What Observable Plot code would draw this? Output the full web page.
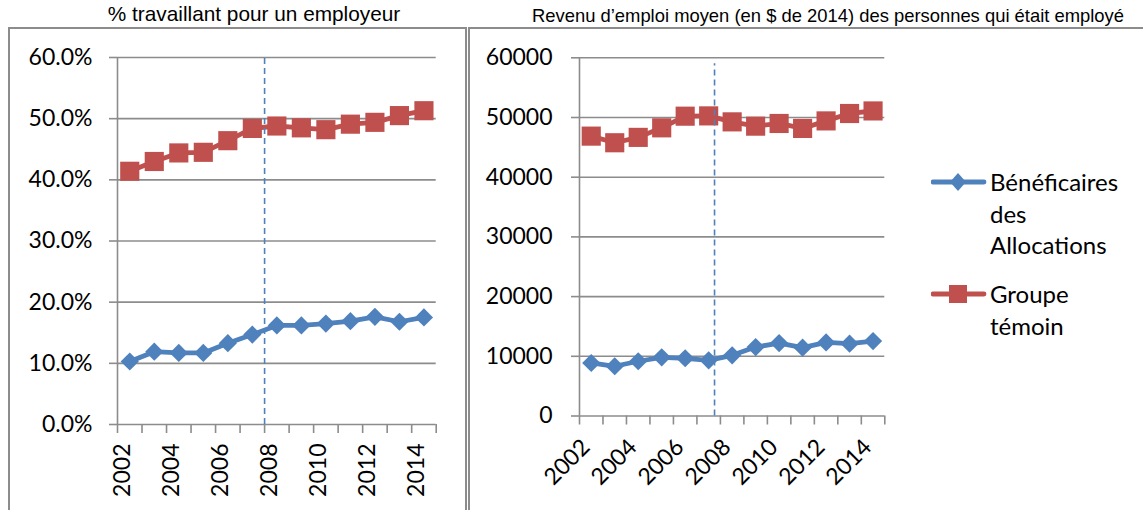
<!DOCTYPE html>
<html>
<head>
<meta charset="utf-8">
<script src="https://cdn.jsdelivr.net/npm/d3@7"></script>
<script src="https://cdn.jsdelivr.net/npm/@observablehq/plot@0.6"></script>
<style>
  html, body { margin: 0; padding: 0; background: #fff; }
  #root { position: relative; width: 1143px; height: 510px; overflow: hidden; background: #fff; }
  .abs { position: absolute; }
  .frameL { left: 8px; top: 27px; width: 455px; height: 500px; border: 2px solid #8c8c8c; border-bottom: none; }
  .frameR { left: 468px; top: 27px; width: 700px; height: 500px; border-left: 2px solid #8c8c8c; border-top: 2px solid #8c8c8c; }
  .title { font-family: "Liberation Sans", Arial, sans-serif; color: #000; white-space: nowrap; text-align: center; }
  .legend { font-family: Lato, sans-serif; font-size: 24px; color: #000; line-height: 31.5px; }
  .legend .item { position: absolute; left: 0; }
  .legend svg { position: absolute; left: 0; }
  .legend .txt { position: absolute; left: 59px; white-space: nowrap; }
</style>
</head>
<body>
<div id="root">
  <div class="abs frameL"></div>
  <div class="abs frameR"></div>
  <div class="abs title" id="titleL" style="left:104px; width:300px; top:2px; font-size:20.8px;"></div>
  <div class="abs title" id="titleR" style="left:478px; width:700px; top:5px; font-size:18.4px;"></div>
  <div class="abs" id="plotL" style="left:0; top:0;"></div>
  <div class="abs" id="plotR" style="left:470px; top:0;"></div>
  <div class="abs legend" id="legend" style="left:931px; top:0;"></div>
</div>
<script>
// ---- Data ----
const years = [2002, 2003, 2004, 2005, 2006, 2007, 2008, 2009, 2010, 2011, 2012, 2013, 2014];
const yearLabels = [2002, 2004, 2006, 2008, 2010, 2012, 2014];
const seriesNames = ["Bénéficaires des Allocations", "Groupe témoin"];
// % travaillant pour un employeur
const benefEmploi  = [10.3, 11.9, 11.7, 11.7, 13.3, 14.7, 16.2, 16.2, 16.5, 16.9, 17.6, 16.8, 17.5];
const temoinEmploi = [41.4, 43.0, 44.4, 44.5, 46.4, 48.4, 48.8, 48.5, 48.2, 49.1, 49.4, 50.5, 51.3];
// Revenu d'emploi moyen (en $ de 2014)
const benefRevenu  = [8880, 8330, 9170, 9830, 9670, 9330, 10170, 11550, 12220, 11450, 12330, 12120, 12550];
const temoinRevenu = [46880, 45770, 46670, 48270, 50220, 50270, 49270, 48550, 49000, 48170, 49430, 50670, 51100];
const yTicksLeft  = [0, 10, 20, 30, 40, 50, 60];
const yTicksRight = [0, 10000, 20000, 30000, 40000, 50000, 60000];
const dividerLeft = 2007.5;
const dividerRight = 2007.25;
const dividerRightTop = 59000;
const titleLeft = "% travaillant pour un employeur";
const titleRight = "Revenu d\u2019emploi moyen (en $ de 2014) des personnes qui était employé";

// ---- Style ----
const BLUE = "#4F81BD";
const RED = "#C0504D";
const GRID = "#8c8c8c";

const boundaries = years.map(y => y - 0.5).concat([years[years.length - 1] + 0.5]);
const leftData = years.map((year, i) => ({year, benef: benefEmploi[i], temoin: temoinEmploi[i]}));
const rightData = years.map((year, i) => ({year, benef: benefRevenu[i], temoin: temoinRevenu[i]}));

document.getElementById("titleL").textContent = titleLeft;
document.getElementById("titleR").textContent = titleRight;

function seriesMarks(data) {
  return [
    Plot.line(data, {x: "year", y: "temoin", stroke: RED, strokeWidth: 4.8}),
    Plot.dot(data, {x: "year", y: "temoin", symbol: "square", r: 10.8, fill: RED, stroke: null}),
    Plot.line(data, {x: "year", y: "benef", stroke: BLUE, strokeWidth: 4.8}),
    Plot.dot(data, {x: "year", y: "benef", symbol: "diamond2", r: 8.2, fill: BLUE, stroke: null})
  ];
}

const common = {
  style: {fontFamily: "Lato, sans-serif", fontSize: "23px", color: "#000", background: "transparent", overflow: "visible"},
  x: {domain: [2001.5, 2014.5]}
};

const left = Plot.plot({
  ...common,
  width: 470, height: 510,
  marginLeft: 117, marginRight: 34.3, marginTop: 57, marginBottom: 86,
  y: {domain: [0, 60]},
  marks: [
    Plot.ruleY(yTicksLeft, {stroke: GRID, strokeWidth: 1.6}),
    Plot.axisY(yTicksLeft, {tickSize: 8, tickPadding: 17, stroke: GRID, strokeWidth: 1.6, fill: "#000",
      tickFormat: d => d.toFixed(1) + "%", label: null}),
    Plot.ruleX([2001.5], {stroke: GRID, strokeWidth: 1.6}),
    Plot.axisX(boundaries, {tickSize: 9, stroke: GRID, strokeWidth: 1.6, tickFormat: () => "", label: null}),
    Plot.text(yearLabels, {x: d => d, text: d => String(d), frameAnchor: "bottom", rotate: -90,
      textAnchor: "end", dy: 19, fill: "#000"}),
    ...seriesMarks(leftData),
    Plot.ruleX([dividerLeft], {y1: 0, y2: 60, stroke: BLUE, strokeWidth: 1.6, strokeDasharray: "6,4"})
  ]
});
document.getElementById("plotL").appendChild(left);

const right = Plot.plot({
  ...common,
  width: 430, height: 510,
  marginLeft: 109, marginRight: 15.7, marginTop: 57.3, marginBottom: 94.5,
  y: {domain: [0, 60000]},
  marks: [
    Plot.ruleY(yTicksRight, {stroke: GRID, strokeWidth: 1.6}),
    Plot.axisY(yTicksRight, {tickSize: 8, tickPadding: 19, stroke: GRID, strokeWidth: 1.6, fill: "#000",
      tickFormat: d => String(d), label: null}),
    Plot.ruleX([2001.5], {stroke: GRID, strokeWidth: 1.6}),
    Plot.axisX(boundaries, {tickSize: 9, stroke: GRID, strokeWidth: 1.6, tickFormat: () => "", label: null}),
    Plot.text(yearLabels, {x: d => d, text: d => String(d), frameAnchor: "bottom", rotate: -45,
      textAnchor: "end", dy: 32.5, fill: "#000"}),
    ...seriesMarks(rightData),
    Plot.ruleX([dividerRight], {y1: 0, y2: dividerRightTop, stroke: BLUE, strokeWidth: 1.6, strokeDasharray: "6,4"})
  ]
});
document.getElementById("plotR").appendChild(right);

// ---- Legend ----
const legend = document.getElementById("legend");
const legendItems = [
  {name: seriesNames[0], color: BLUE, shape: "diamond", lines: ["Bénéficaires", "des", "Allocations"], top: 166},
  {name: seriesNames[1], color: RED, shape: "square", lines: ["Groupe", "témoin"], top: 278}
];
legendItems.forEach(item => {
  const div = document.createElement("div");
  div.className = "item";
  div.style.top = item.top + "px";
  const marker = item.shape === "diamond"
    ? `<path d="M27,7 L35,16 L27,25 L19,16 Z" fill="${item.color}"/>`
    : `<rect x="18" y="7" width="18" height="18" fill="${item.color}"/>`;
  div.innerHTML = `<svg width="56" height="32" style="top:0"><line x1="2" y1="16" x2="53" y2="16" stroke="${item.color}" stroke-width="4.8" stroke-linecap="round"/>${marker}</svg>` +
    `<div class="txt">${item.lines.join("<br>")}</div>`;
  legend.appendChild(div);
});
</script>
</body>
</html>
